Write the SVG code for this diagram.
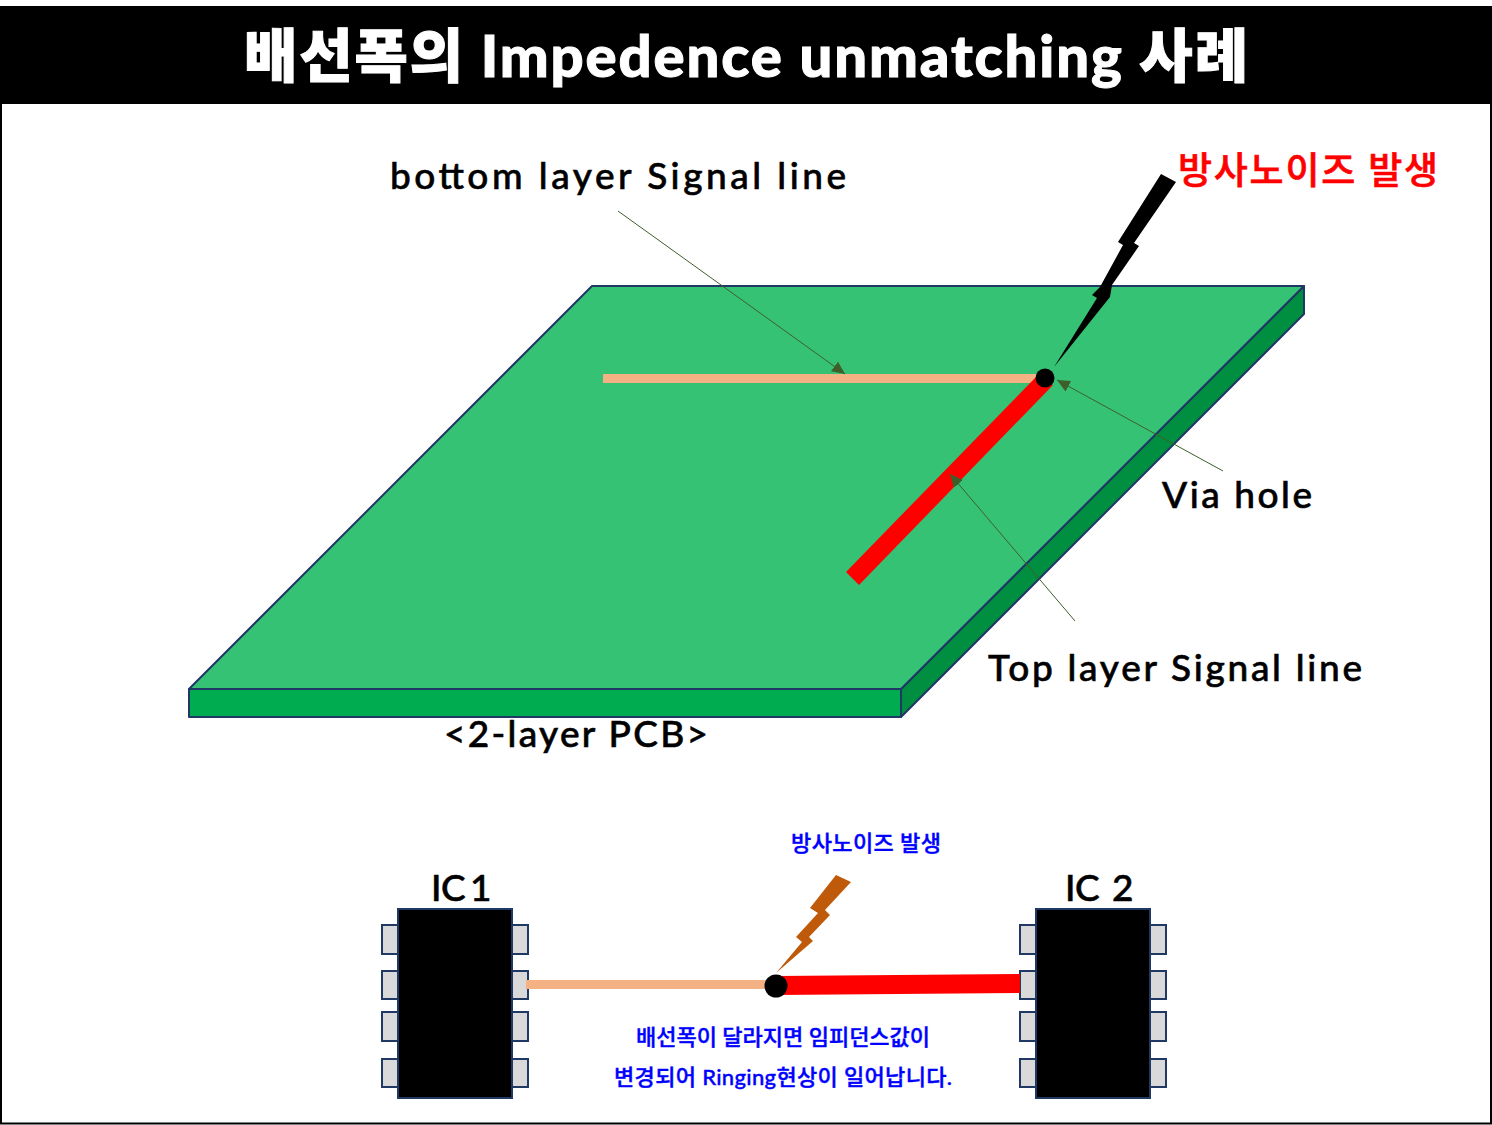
<svg xmlns="http://www.w3.org/2000/svg" width="1492" height="1125" viewBox="0 0 1492 1125">
<style>
text{font-family:"Lato","Noto Sans CJK KR",sans-serif;font-weight:500}
.l{font-size:37px;fill:#000;stroke:#000;stroke-width:.6}
.r{font-size:37px;fill:#ff0000;stroke:#ff0000;stroke-width:.6}
.b{font-size:22px;fill:#0000ff;stroke:#0000ff;stroke-width:.4}
.e{stroke:#1f3864;stroke-width:2;stroke-linejoin:round}
.p{fill:#d9d9d9;stroke:#1f3864;stroke-width:2}
.c{fill:#000;stroke:#1f3864;stroke-width:2}
.a{stroke:#3f5f2a;stroke-width:1;fill:none;marker-end:url(#m)}
</style>
<defs>
<marker id="m" markerUnits="userSpaceOnUse" markerWidth="14" markerHeight="12" refX="13" refY="6" orient="auto"><path d="M0 0L13 6L0 12Z" fill="#3f5f2a"/></marker>
</defs>
<rect width="1492" height="1125" fill="#fff"/>
<path d="M1 104V1123.500H1491V104" fill="none" stroke="#000" stroke-width="2"/>
<g id="title">
<rect x="0" y="6" width="1492" height="98" fill="#000"/>
<text x="244" y="77" font-size="58" style="font-weight:900" fill="#fff" textLength="1004" lengthAdjust="spacing" stroke="#fff" stroke-width="1">배선폭의 Impedence unmatching 사례</text>
</g>
<g id="pcb">
<path class="e" d="M901 689L1304 286V314L901 717Z" fill="#008e40"/>
<rect class="e" x="189" y="689" width="712" height="28" fill="#00ac50"/>
<path class="e" d="M592 286H1304L901 689H189Z" fill="#36c275"/>
</g>
<g id="pcb-traces">
<rect x="603" y="374" width="437" height="9" fill="#f4b183"/>
<path d="M846 572L1036 377L1053 385L859 585Z" fill="#ff0000"/>
<circle cx="1045" cy="378" r="9.500" fill="#000"/>
</g>
<g id="pcb-noise">
<path d="M1161 174L1176 182L1134 243L1139 246L1112 285L1110 297L1054 367L1097 298L1092 295L1100 287L1123 245L1118 242Z" fill="#000"/>
</g>
<g id="connectors">
<line class="a" x1="618" y1="211" x2="845" y2="374"/>
<line class="a" x1="1223" y1="471" x2="1057" y2="380"/>
<line class="a" x1="1075" y1="621" x2="950" y2="474"/>
</g>
<g id="ic1">
<rect class="p" x="382" y="925" width="16" height="29"/>
<rect class="p" x="382" y="971" width="16" height="28"/>
<rect class="p" x="382" y="1012" width="16" height="29"/>
<rect class="p" x="382" y="1059" width="16" height="28"/>
<rect class="p" x="512" y="925" width="16" height="29"/>
<rect class="p" x="512" y="971" width="16" height="28"/>
<rect class="p" x="512" y="1012" width="16" height="29"/>
<rect class="p" x="512" y="1059" width="16" height="28"/>
<rect class="c" x="398" y="909" width="114" height="189"/>
<text class="l" x="431 441 465 470" y="901">IC 1</text>
</g>
<g id="ic2">
<rect class="p" x="1020" y="925" width="16" height="29"/>
<rect class="p" x="1020" y="971" width="16" height="28"/>
<rect class="p" x="1020" y="1012" width="16" height="29"/>
<rect class="p" x="1020" y="1059" width="16" height="28"/>
<rect class="p" x="1150" y="925" width="16" height="29"/>
<rect class="p" x="1150" y="971" width="16" height="28"/>
<rect class="p" x="1150" y="1012" width="16" height="29"/>
<rect class="p" x="1150" y="1059" width="16" height="28"/>
<rect class="c" x="1036" y="909" width="114" height="189"/>
<text class="l" x="1065 1075 1100 1112" y="901">IC 2</text>
</g>
<g id="schematic-traces">
<rect x="526" y="980" width="250" height="9" fill="#f4b183"/>
<path d="M776 976L1020 974V993L776 995Z" fill="#ff0000"/>
<circle cx="776" cy="986" r="11.500" fill="#000"/>
</g>
<g id="schematic-noise">
<path d="M836 875L851 882L825 910L830 915L809 937L813 941L776 973L802 942L796 937L818 913L810 908Z" fill="#bf5a0a"/>
</g>
<g id="labels">
<text class="l" x="390" y="189" textLength="456" lengthAdjust="spacing">bottom layer Signal line</text>
<text class="r" x="1178" y="184" textLength="260" lengthAdjust="spacing">방사노이즈 발생</text>
<text class="l" x="1162" y="508" textLength="150" lengthAdjust="spacing">Via hole</text>
<text class="l" x="988" y="681" textLength="374" lengthAdjust="spacing">Top layer Signal line</text>
<text class="l" x="444" y="747" textLength="264" lengthAdjust="spacing">&lt;2-layer PCB&gt;</text>
<text class="b" x="791" y="851" textLength="150" lengthAdjust="spacing">방사노이즈 발생</text>
<text class="b" x="636" y="1045" textLength="294" lengthAdjust="spacing">배선폭이 달라지면 임피던스값이</text>
<text class="b" x="614" y="1085" textLength="338" lengthAdjust="spacing">변경되어 Ringing현상이 일어납니다.</text>
</g>
</svg>
